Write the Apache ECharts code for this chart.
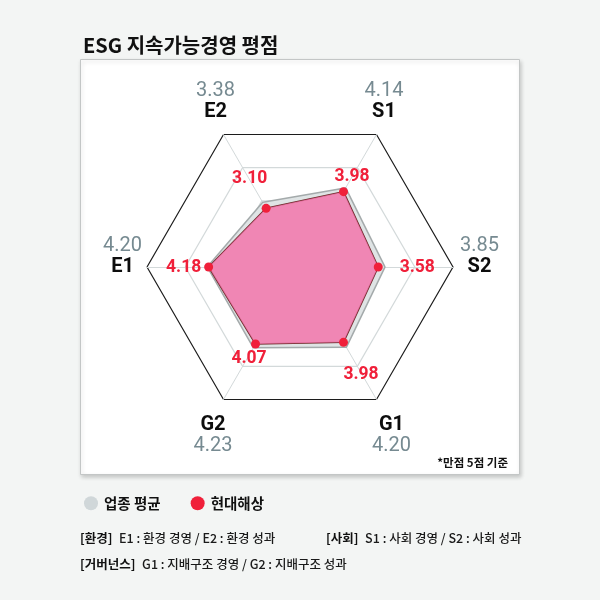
<!DOCTYPE html>
<html>
<head>
<meta charset="utf-8">
<script src="https://cdn.jsdelivr.net/npm/echarts@6/dist/echarts.min.js"></script>
<style>
  html, body { margin: 0; padding: 0; background: #f3f5f4; }
  #chart { width: 600px; height: 600px; }
</style>
</head>
<body>
<div id="chart"></div>
<script>
// ---- data (radar order: counter-clockwise starting from the left vertex) ----
const categories = ['E1', 'G2', 'G1', 'S2', 'S1', 'E2'];
const industryAvg = [4.20, 4.23, 4.20, 3.85, 4.14, 3.38];
const hyundaiScore = [4.18, 4.07, 3.98, 3.58, 3.98, 3.10];
const seriesNames = ['업종 평균', '현대해상'];
const scaleMin = 0;
const scaleMax = 7;

// ---- layout only (label offsets in px, per category) ----
const nameLabelLayout = {
  E1: { off: [-24.5, -10.5], nameFirst: false },
  G2: { off: [-10.5, 36], nameFirst: true },
  G1: { off: [15, 36], nameFirst: true },
  S2: { off: [26.5, -10.5], nameFirst: false },
  S1: { off: [7.5, -33], nameFirst: false },
  E2: { off: [-8, -33], nameFirst: false }
};
const scoreLabelOffset = {
  E1: [-25, 0.5],
  G2: [-6.5, 15],
  G1: [17.5, 32],
  S2: [39, 1],
  S1: [8.5, -15],
  E2: [-16.5, -30]
};

const FONT = 'Roboto, "Noto Sans CJK KR", "Noto Sans", sans-serif';
const KFONT = '"Noto Sans CJK KR", Roboto, sans-serif';
const CENTER = [300, 267];
const RADIUS = 153;

const chart = echarts.init(document.getElementById('chart'));

const option = {
  backgroundColor: '#f3f5f4',
  animation: false,
  title: {
    text: 'ESG 지속가능경영 평점',
    left: 78,
    top: 30,
    textStyle: { fontFamily: KFONT, fontSize: 20, fontWeight: 'bold', color: '#111' }
  },
  graphic: [
    {
      type: 'rect', z: -10, left: 80, top: 59,
      shape: { width: 439, height: 415 },
      style: {
        fill: '#ffffff', stroke: '#c3c6c6', lineWidth: 1,
        shadowBlur: 4, shadowColor: 'rgba(0,0,0,0.18)', shadowOffsetX: 1, shadowOffsetY: 2
      }
    },
    {
      type: 'text', right: 92, top: 457,
      style: { text: '*만점 5점 기준', fontFamily: KFONT, fontSize: 11.5, fontWeight: 'bold', fill: '#111' }
    },
    {
      type: 'text', left: 80, top: 532,
      style: {
        text: '{b|[환경]}  {r|E1 : 환경 경영 / E2 : 환경 성과}',
        rich: {
          b: { fontFamily: KFONT, fontSize: 12.5, fontWeight: 'bold', fill: '#111' },
          r: { fontFamily: KFONT, fontSize: 12.5, fontWeight: 500, fill: '#1a1a1a' }
        }
      }
    },
    {
      type: 'text', left: 326, top: 532,
      style: {
        text: '{b|[사회]}  {r|S1 : 사회 경영 / S2 : 사회 성과}',
        rich: {
          b: { fontFamily: KFONT, fontSize: 12.5, fontWeight: 'bold', fill: '#111' },
          r: { fontFamily: KFONT, fontSize: 12.5, fontWeight: 500, fill: '#1a1a1a' }
        }
      }
    },
    {
      type: 'text', left: 80, top: 558,
      style: {
        text: '{b|[거버넌스]}  {r|G1 : 지배구조 경영 / G2 : 지배구조 성과}',
        rich: {
          b: { fontFamily: KFONT, fontSize: 12.5, fontWeight: 'bold', fill: '#111' },
          r: { fontFamily: KFONT, fontSize: 12.5, fontWeight: 500, fill: '#1a1a1a' }
        }
      }
    }
  ],
  legend: {
    data: seriesNames.map(n => ({ name: n, icon: 'circle' })),
    left: 79, top: 491,
    itemWidth: 14, itemHeight: 14, itemGap: 30,
    selectedMode: false,
    textStyle: { fontFamily: KFONT, fontSize: 14.5, fontWeight: 'bold', color: '#111', padding: [0, 0, 0, 1] }
  },
  radar: {
    center: CENTER,
    radius: RADIUS,
    startAngle: 180,
    shape: 'polygon',
    splitNumber: 4,
    indicator: categories.map(c => ({ name: c, min: scaleMin, max: scaleMax })),
    axisName: { show: false },
    axisLine: { lineStyle: { color: '#d3d9da', width: 1 } },
    splitLine: { lineStyle: { color: ['#d3d9da', '#d3d9da', '#d3d9da', '#d3d9da', '#1c1c1c'], width: 1.2 } },
    splitArea: { show: false }
  },
  polar: { center: CENTER, radius: RADIUS },
  angleAxis: {
    type: 'category', data: categories, startAngle: 180, clockwise: false,
    boundaryGap: false, show: false
  },
  radiusAxis: { type: 'value', min: scaleMin, max: scaleMax, show: false },
  series: [
    {
      name: seriesNames[0],
      type: 'radar',
      symbol: 'none',
      z: 2,
      itemStyle: { color: '#d0d7d9' },
      lineStyle: { color: '#a4aaab', width: 3 },
      areaStyle: { color: '#dfe4e5', opacity: 1 },
      data: [{ name: seriesNames[0], value: industryAvg }]
    },
    {
      name: seriesNames[1],
      type: 'radar',
      symbol: 'circle',
      symbolSize: 9,
      z: 3,
      itemStyle: { color: '#f0203a' },
      lineStyle: { color: '#6e2a2a', width: 1.5 },
      areaStyle: { color: 'rgba(243,118,172,0.85)', opacity: 1 },
      data: [{ name: seriesNames[1], value: hyundaiScore }]
    },
    {
      name: 'scoreLabels',
      type: 'scatter',
      coordinateSystem: 'polar',
      symbolSize: 1,
      silent: true,
      z: 5,
      itemStyle: { color: 'rgba(0,0,0,0)', opacity: 1 },
      label: {
        show: true, position: 'inside', align: 'center', verticalAlign: 'middle',
        fontFamily: FONT, fontSize: 17.5, fontWeight: 'bold', color: '#f0203a',
        textBorderWidth: 0, opacity: 1,
        formatter: p => hyundaiScore[p.dataIndex].toFixed(2)
      },
      data: categories.map((c, i) => ({
        value: [hyundaiScore[i], c],
        label: { offset: scoreLabelOffset[c] }
      }))
    },
    {
      name: 'nameLabels',
      type: 'scatter',
      coordinateSystem: 'polar',
      symbolSize: 1,
      silent: true,
      z: 5,
      itemStyle: { color: 'rgba(0,0,0,0)', opacity: 1 },
      label: {
        show: true, position: 'inside', align: 'center', verticalAlign: 'middle',
        textBorderWidth: 0, opacity: 1,
        formatter: p => {
          const c = categories[p.dataIndex];
          const v = '{v|' + industryAvg[p.dataIndex].toFixed(2) + '}';
          const n = '{n|' + c + '}';
          return nameLabelLayout[c].nameFirst ? n + '\n' + v : v + '\n' + n;
        },
        rich: {
          v: { fontFamily: FONT, fontSize: 20, fontWeight: 'normal', color: '#768a91', lineHeight: 21, align: 'center', textBorderWidth: 0 },
          n: { fontFamily: FONT, fontSize: 20, fontWeight: 'bold', color: '#0d0d0d', lineHeight: 21, align: 'center', textBorderWidth: 0 }
        }
      },
      data: categories.map((c, i) => ({
        value: [scaleMax, c],
        label: { offset: nameLabelLayout[c].off }
      }))
    }
  ]
};

chart.setOption(option);
</script>
</body>
</html>
